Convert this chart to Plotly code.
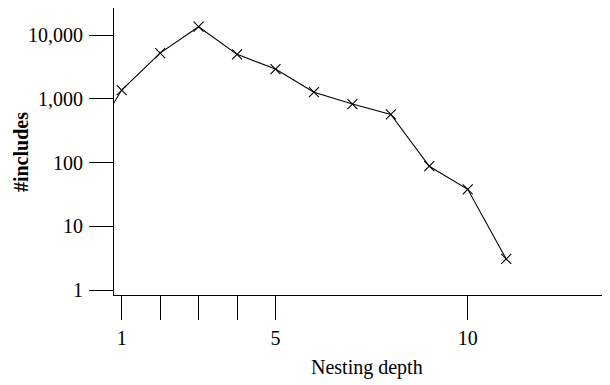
import plotly.graph_objects as go

depth = [0, 1, 2, 3, 4, 5, 6, 7, 8, 9, 10, 11]
includes = [138, 1370, 5200, 13500, 4980, 2930, 1270, 826, 569, 87.5, 38, 3.07]

x_tickvals = [1, 2, 3, 4, 5, 10]
x_ticktext = ["1", "", "", "", "5", "10"]
y_tickvals = [1, 10, 100, 1000, 10000]
y_ticktext = ["1", "10", "100", "1,000", "10,000"]

FONT = "Liberation Serif, Times New Roman, serif"

fig = go.Figure(
    go.Scatter(
        x=depth,
        y=includes,
        mode="lines+markers",
        line=dict(color="black", width=1.1),
        marker=dict(symbol="x-thin", size=10, line=dict(color="black", width=1.1)),
        cliponaxis=True,
        showlegend=False,
    )
)

# page body has an 8px default margin, so the figure is sized to fit the window
fig.update_layout(
    width=602,
    height=377,
    margin=dict(l=106, r=0, t=0, b=90, autoexpand=False),
    paper_bgcolor="white",
    plot_bgcolor="white",
    font=dict(family=FONT, size=20, color="black"),
    xaxis=dict(
        range=[0.8, 13.7],
        tickmode="array",
        tickvals=x_tickvals,
        ticktext=x_ticktext,
        ticks="outside",
        ticklen=24,
        tickwidth=1,
        tickcolor="black",
        ticklabelstandoff=1,
        showline=True,
        linecolor="black",
        linewidth=1,
        showgrid=False,
        zeroline=False,
        automargin=False,
    ),
    yaxis=dict(
        type="log",
        range=[-0.078, 4.424],
        tickmode="array",
        tickvals=y_tickvals,
        ticktext=y_ticktext,
        ticks="outside",
        ticklen=24,
        tickwidth=1,
        tickcolor="black",
        ticklabelstandoff=2,
        showline=True,
        linecolor="black",
        linewidth=1,
        showgrid=False,
        zeroline=False,
        automargin=False,
    ),
    annotations=[
        dict(
            text="Nesting depth",
            xref="paper", yref="paper",
            x=0.510, y=-0.254,
            xanchor="center", yanchor="middle",
            showarrow=False,
            font=dict(family=FONT, size=20),
        ),
        dict(
            text="<b>#includes</b>",
            xref="paper", yref="paper",
            x=-0.1875, y=0.498,
            xanchor="center", yanchor="middle",
            textangle=-90,
            showarrow=False,
            font=dict(family=FONT, size=20),
        ),
    ],
)

fig.write_html("out.html")
